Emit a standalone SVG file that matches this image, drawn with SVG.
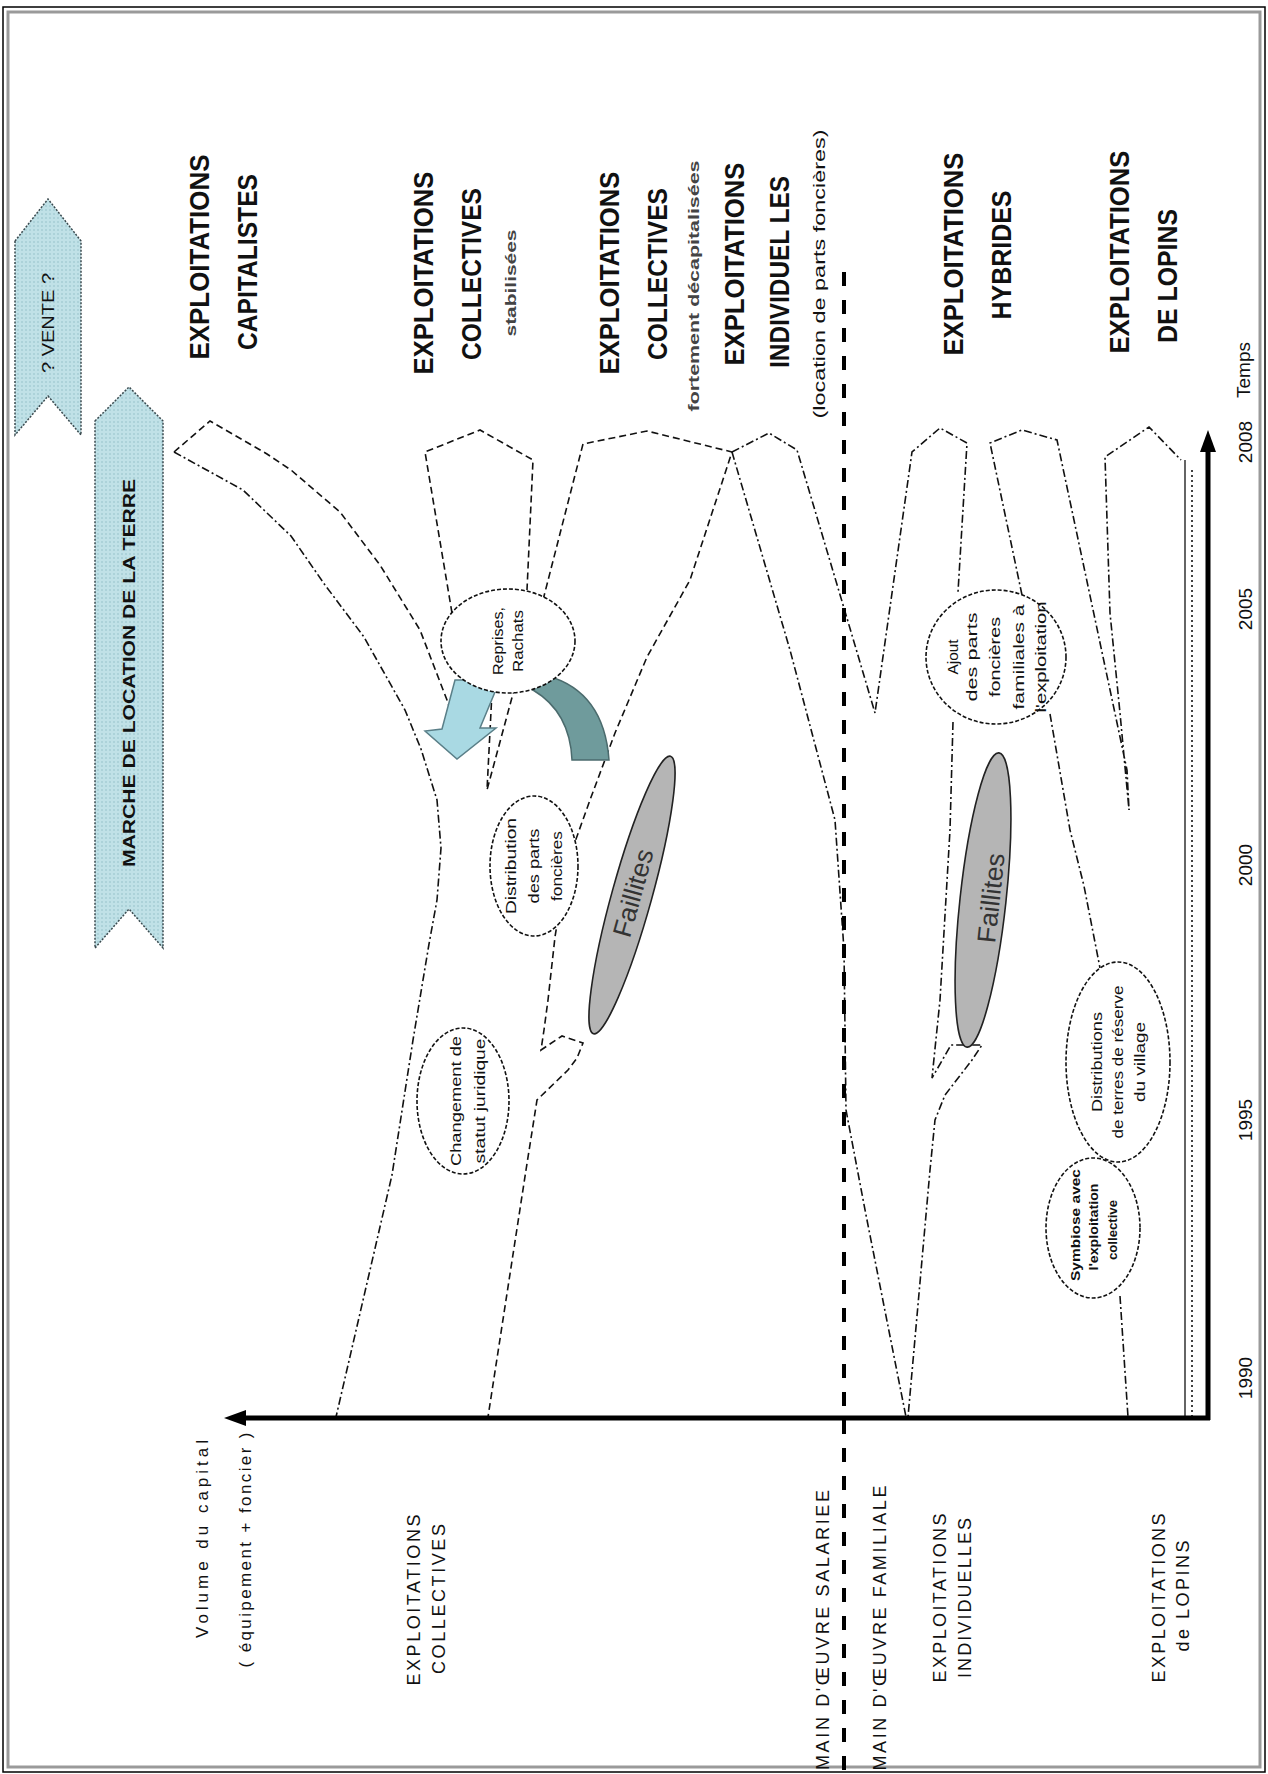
<svg xmlns="http://www.w3.org/2000/svg" width="1268" height="1774" viewBox="0 0 1268 1774">
<defs>
<pattern id="dots" width="4" height="4" patternUnits="userSpaceOnUse"><rect width="4" height="4" fill="#c0e1e7"/><circle cx="2" cy="2" r="0.8" fill="#93c0c9"/></pattern>
<style>
text{font-family:"Liberation Sans",Arial,sans-serif;fill:#111}
.big{font-family:"Liberation Sans Narrow","Liberation Sans",Arial,sans-serif;font-weight:bold;font-size:28px}
.sub{font-weight:bold;font-size:15px;fill:#444}
.lab{font-size:18px}
.yr{font-size:19px}
.sm{font-size:14px}
.smb{font-size:13px;font-weight:bold}
.fa{font-size:26px;fill:#333}
.dd{fill:none;stroke:#111;stroke-width:1.6;stroke-dasharray:8 3 2 3}
.ds{fill:none;stroke:#111;stroke-width:1.6;stroke-dasharray:7 4}
.el{fill:#fff;stroke:#111;stroke-width:1.6;stroke-dasharray:4 2}
.gr{fill:#b5b5b5;stroke:#222;stroke-width:1.6}
.ban{fill:url(#dots);stroke:#3a4a4f;stroke-width:1.5;stroke-dasharray:2 1.5}
.ax{stroke:#000;stroke-width:5;fill:none}
</style>
</defs>
<rect width="1268" height="1774" fill="#fff"/>
<g id="frame">
<rect x="3" y="7" width="1262" height="1765" fill="none" stroke="#000" stroke-width="1.5"/>
<rect x="8" y="12" width="1252" height="1755" fill="none" stroke="#9a9a9a" stroke-width="3"/>
</g>

<g id="banner-vente">
<path class="ban" d="M15,241 L48,199 L81,241 L81,435 L48,396 L15,435 Z"/>
<text transform="translate(54,323) rotate(-90)" text-anchor="middle" font-size="16" fill="#223" textLength="100" lengthAdjust="spacingAndGlyphs">? VENTE ?</text>
</g>
<g id="banner-marche">
<path class="ban" d="M95,421 L129,387 L163,421 L163,948 L129,909 L95,948 Z"/>
<text transform="translate(135,673) rotate(-90)" text-anchor="middle" font-size="16" font-weight="bold" fill="#223" textLength="388" lengthAdjust="spacingAndGlyphs">MARCHE DE LOCATION DE LA TERRE</text>
</g>

<g id="connectors">
<path class="dd" d="M174,452 L243,490 L291,536 L325,585 L364,637 L405,710 L421,749 L437,800 L441,848 L437,900 L429,944 L413,1040 L392,1175 L336,1417"/>
<path class="ds" d="M174,452 L210,421 L267,454 L291,470 L340,512 L380,565 L420,630 L447,700 L455,725"/>
<path class="ds" d="M452,613 L425,452 L480,430 L533,460 L527,590"/>
<path class="ds" d="M543,600 L583,444 L647,431 L732,452 L690,580 L647,657 L615,733 L590,800 L566,867 L555,937 L548,1000 L544,1030 L541,1050 L562,1036 L583,1043 L577,1058 L568,1070 L537,1100 L526,1170 L488,1417"/>
<path class="ds" d="M492,692 L487,790 L514,690"/>
<path class="dd" d="M732,452 L769,433 L797,450 L841,598 L875,713 L912,452 L940,428 L967,443 L958,592"/>
<path class="dd" d="M732,452 L790,650 L835,820 L844,950 L846,1110 L866,1215 L906,1417"/>
<path class="dd" d="M1022,595 L990,443 L1022,430 L1057,440 L1127,770 L1129,810 L1120,713 L1110,613 L1105,457 L1149,427 L1181,460"/>
<path class="dd" d="M953,722 L950,830 L940,1000 L932,1078 L951,1045 L982,1045 L972,1060 L945,1095 L935,1120 L930,1170 L908,1417"/>
<path class="dd" d="M1050,714 L1070,830 L1084,886 L1100,968"/>
<path class="dd" d="M1120,1296 L1128,1417"/>
<path d="M1185,460 L1185,1417" fill="none" stroke="#111" stroke-width="1.3"/>
<path d="M1192,470 L1192,1417" fill="none" stroke="#111" stroke-width="1.6" stroke-dasharray="2 3"/>
<path d="M844,272 L844,1774" fill="none" stroke="#000" stroke-width="4" stroke-dasharray="14 14"/>
<path id="arrow-light" d="M455,680 L500,680 L480,728 L496,728 L457,759 L425,731 L442,729 Z" fill="#a9d9e3" stroke="#5a7f88" stroke-width="1.5"/>
<path id="arrow-teal" d="M548,676 Q604,692 609,760 L572,760 Q570,712 533,690 Z" fill="#6f9b9c" stroke="#4b6b6d" stroke-width="1.5"/>
</g>

<g id="axes">
<line class="ax" x1="1208" y1="1420" x2="1208" y2="446"/>
<polygon points="1208,430 1200,452 1216,452" fill="#000"/>
<line class="ax" x1="1210" y1="1418" x2="240" y2="1418"/>
<polygon points="224,1418 246,1410 246,1426" fill="#000"/>
</g>

<g id="node-reprises">
<ellipse class="el" cx="508" cy="641" rx="67" ry="52"/>
<g transform="translate(508,641) rotate(-90)"><text y="-5" text-anchor="middle" class="sm" textLength="68" lengthAdjust="spacingAndGlyphs">Reprises,</text><text y="15" text-anchor="middle" class="sm" textLength="62" lengthAdjust="spacingAndGlyphs">Rachats</text></g>
</g>
<g id="node-distribution">
<ellipse class="el" cx="534" cy="866" rx="44" ry="70"/>
<g transform="translate(534,866) rotate(-90)"><text y="-18" text-anchor="middle" class="sm" textLength="96" lengthAdjust="spacingAndGlyphs">Distribution</text><text y="5" text-anchor="middle" class="sm" textLength="75" lengthAdjust="spacingAndGlyphs">des parts</text><text y="28" text-anchor="middle" class="sm" textLength="70" lengthAdjust="spacingAndGlyphs">foncières</text></g>
</g>
<g id="node-changement">
<ellipse class="el" cx="463" cy="1101" rx="46" ry="73"/>
<g transform="translate(463,1101) rotate(-90)"><text y="-2" text-anchor="middle" font-size="15" textLength="130" lengthAdjust="spacingAndGlyphs">Changement de</text><text y="22" text-anchor="middle" font-size="15" textLength="125" lengthAdjust="spacingAndGlyphs">statut juridique</text></g>
</g>
<g id="node-faillites1">
<ellipse class="gr" cx="632" cy="895" rx="20" ry="144" transform="rotate(15.5 632 895)"/>
<text class="fa" transform="translate(633,893) rotate(-74.5)" y="9" text-anchor="middle" textLength="90" lengthAdjust="spacingAndGlyphs">Faillites</text>
</g>
<g id="node-ajout">
<ellipse class="el" cx="996" cy="657" rx="70" ry="67"/>
<g transform="translate(996,657) rotate(-90)"><text y="-38" text-anchor="middle" class="sm" textLength="35" lengthAdjust="spacingAndGlyphs">Ajout</text><text y="-19" text-anchor="middle" class="sm" textLength="89" lengthAdjust="spacingAndGlyphs">des parts</text><text y="4" text-anchor="middle" class="sm" textLength="80" lengthAdjust="spacingAndGlyphs">foncières</text><text y="28" text-anchor="middle" class="sm" textLength="105" lengthAdjust="spacingAndGlyphs">familiales à</text><text y="50" text-anchor="middle" class="sm" textLength="111" lengthAdjust="spacingAndGlyphs">l'exploitation</text></g>
</g>
<g id="node-faillites2">
<ellipse class="gr" cx="983" cy="900" rx="23" ry="148" transform="rotate(6.2 983 900)"/>
<text class="fa" transform="translate(991,898) rotate(-83.8)" y="9" text-anchor="middle" textLength="90" lengthAdjust="spacingAndGlyphs">Faillites</text>
</g>
<g id="node-distributions">
<ellipse class="el" cx="1118" cy="1062" rx="52" ry="100"/>
<g transform="translate(1118,1062) rotate(-90)"><text y="-16" text-anchor="middle" class="sm" textLength="100" lengthAdjust="spacingAndGlyphs">Distributions</text><text y="5" text-anchor="middle" class="sm" textLength="153" lengthAdjust="spacingAndGlyphs">de terres de réserve</text><text y="27" text-anchor="middle" class="sm" textLength="80" lengthAdjust="spacingAndGlyphs">du village</text></g>
</g>
<g id="node-symbiose">
<ellipse class="el" cx="1093" cy="1228" rx="47" ry="70"/>
<g transform="translate(1093,1228) rotate(-90)"><text y="-13" x="3" text-anchor="middle" class="smb" textLength="112" lengthAdjust="spacingAndGlyphs">Symbiose avec</text><text y="5" x="1" text-anchor="middle" class="smb" textLength="87" lengthAdjust="spacingAndGlyphs">l'exploitation</text><text y="24" x="-2" text-anchor="middle" class="smb" textLength="60" lengthAdjust="spacingAndGlyphs">collective</text></g>
</g>

<g id="labels-top">
<text class="big" transform="translate(209,257) rotate(-90)" text-anchor="middle" textLength="205" lengthAdjust="spacingAndGlyphs">EXPLOITATIONS</text>
<text class="big" transform="translate(257,262) rotate(-90)" text-anchor="middle" textLength="176" lengthAdjust="spacingAndGlyphs">CAPITALISTES</text>
<text class="big" transform="translate(433,273) rotate(-90)" text-anchor="middle" textLength="203" lengthAdjust="spacingAndGlyphs">EXPLOITATIONS</text>
<text class="big" transform="translate(481,274) rotate(-90)" text-anchor="middle" textLength="172" lengthAdjust="spacingAndGlyphs">COLLECTIVES</text>
<text class="sub" transform="translate(516,283) rotate(-90)" text-anchor="middle" textLength="107" lengthAdjust="spacingAndGlyphs">stabilisées</text>
<text class="big" transform="translate(619,273) rotate(-90)" text-anchor="middle" textLength="203" lengthAdjust="spacingAndGlyphs">EXPLOITATIONS</text>
<text class="big" transform="translate(667,274) rotate(-90)" text-anchor="middle" textLength="172" lengthAdjust="spacingAndGlyphs">COLLECTIVES</text>
<text class="sub" transform="translate(699,286) rotate(-90)" text-anchor="middle" textLength="251" lengthAdjust="spacingAndGlyphs">fortement décapitalisées</text>
<text class="big" transform="translate(744,264) rotate(-90)" text-anchor="middle" textLength="203" lengthAdjust="spacingAndGlyphs">EXPLOITATIONS</text>
<text class="big" transform="translate(789,272) rotate(-90)" text-anchor="middle" textLength="192" lengthAdjust="spacingAndGlyphs">INDIVIDUEL LES</text>
<text transform="translate(825,274) rotate(-90)" text-anchor="middle" font-size="17" textLength="289" lengthAdjust="spacingAndGlyphs">(location de parts foncières)</text>
<text class="big" transform="translate(963,254) rotate(-90)" text-anchor="middle" textLength="203" lengthAdjust="spacingAndGlyphs">EXPLOITATIONS</text>
<text class="big" transform="translate(1011,255) rotate(-90)" text-anchor="middle" textLength="129" lengthAdjust="spacingAndGlyphs">HYBRIDES</text>
<text class="big" transform="translate(1129,252) rotate(-90)" text-anchor="middle" textLength="203" lengthAdjust="spacingAndGlyphs">EXPLOITATIONS</text>
<text class="big" transform="translate(1177,276) rotate(-90)" text-anchor="middle" textLength="134" lengthAdjust="spacingAndGlyphs">DE LOPINS</text>
</g>

<g id="labels-time">
<text class="yr" transform="translate(1250,370) rotate(-90)" text-anchor="middle">Temps</text>
<text class="yr" transform="translate(1252,442) rotate(-90)" text-anchor="middle">2008</text>
<text class="yr" transform="translate(1252,609) rotate(-90)" text-anchor="middle">2005</text>
<text class="yr" transform="translate(1252,865) rotate(-90)" text-anchor="middle">2000</text>
<text class="yr" transform="translate(1252,1120) rotate(-90)" text-anchor="middle">1995</text>
<text class="yr" transform="translate(1252,1378) rotate(-90)" text-anchor="middle">1990</text>
</g>

<g id="labels-left">
<text transform="translate(208,1539) rotate(-90)" text-anchor="middle" font-size="17" textLength="198" lengthAdjust="spacing">Volume du capital</text>
<text transform="translate(251,1550) rotate(-90)" text-anchor="middle" font-size="17" textLength="235" lengthAdjust="spacing">( équipement + foncier )</text>
<text class="lab" transform="translate(420,1600) rotate(-90)" text-anchor="middle" textLength="171" lengthAdjust="spacing">EXPLOITATIONS</text>
<text class="lab" transform="translate(445,1599) rotate(-90)" text-anchor="middle" textLength="150" lengthAdjust="spacing">COLLECTIVES</text>
<text class="lab" transform="translate(829,1630) rotate(-90)" text-anchor="middle" textLength="280" lengthAdjust="spacing">MAIN D'ŒUVRE SALARIEE</text>
<text class="lab" transform="translate(886,1628) rotate(-90)" text-anchor="middle" textLength="285" lengthAdjust="spacing">MAIN D'ŒUVRE FAMILIALE</text>
<text class="lab" transform="translate(946,1598) rotate(-90)" text-anchor="middle" textLength="169" lengthAdjust="spacing">EXPLOITATIONS</text>
<text class="lab" transform="translate(971,1598) rotate(-90)" text-anchor="middle" textLength="160" lengthAdjust="spacing">INDIVIDUELLES</text>
<text class="lab" transform="translate(1165,1598) rotate(-90)" text-anchor="middle" textLength="169" lengthAdjust="spacing">EXPLOITATIONS</text>
<text class="lab" transform="translate(1189,1596) rotate(-90)" text-anchor="middle" textLength="111" lengthAdjust="spacing">de LOPINS</text>
</g>
</svg>
